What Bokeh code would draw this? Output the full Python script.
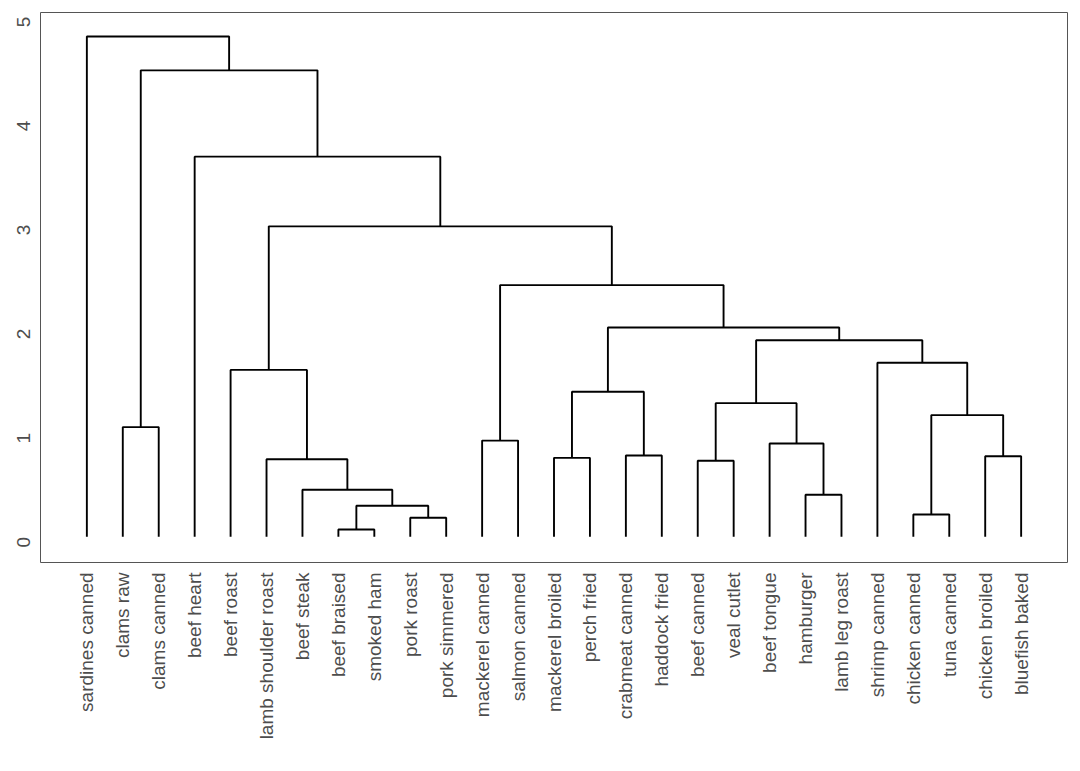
import math
from bokeh.plotting import figure
from bokeh.models import Range1d, FixedTicker, ColumnDataSource
from bokeh.embed import file_html
from bokeh.resources import INLINE

# Leaves in displayed order (left to right)
labels = [
    "sardines canned", "clams raw", "clams canned", "beef heart", "beef roast",
    "lamb shoulder roast", "beef steak", "beef braised", "smoked ham", "pork roast",
    "pork simmered", "mackerel canned", "salmon canned", "mackerel broiled",
    "perch fried", "crabmeat canned", "haddock fried", "beef canned", "veal cutlet",
    "beef tongue", "hamburger", "lamb leg roast", "shrimp canned", "chicken canned",
    "tuna canned", "chicken broiled", "bluefish baked",
]

# hclust-style merge table: negative = leaf (1-based position), positive = earlier merge
merge_left = [-8, -10, -24, 1, -21, -7, -18, -6, -14, -26, -16, -20, -12, -2,
              3, 7, 9, -5, -23, 16, 17, 13, 18, -4, 14, -1]
merge_right = [-9, -11, -25, 2, -22, 4, -19, 6, -15, -27, -17, 5, -13, -3,
               10, 12, 11, 8, 15, 19, 20, 21, 22, 23, 24, 25]
merge_height = [0.07, 0.183, 0.215, 0.298, 0.404, 0.452, 0.731, 0.745, 0.759, 0.775,
                0.782, 0.897, 0.925, 1.055, 1.17, 1.285, 1.394, 1.605, 1.673, 1.89,
                2.012, 2.42, 2.985, 3.655, 4.485, 4.81]
leaf_height = 0.0

y_ticks = [0, 1, 2, 3, 4, 5]

# compute node positions
node_x = []
node_h = []


def pos(ref):
    if ref < 0:
        return float(-ref), leaf_height
    return node_x[ref - 1], node_h[ref - 1]


xs, ys = [], []
for l, r, h in zip(merge_left, merge_right, merge_height):
    xl, hl = pos(l)
    xr, hr = pos(r)
    xs.append([xl, xl, xr, xr])
    ys.append([hl, h, h, hr])
    node_x.append((xl + xr) / 2.0)
    node_h.append(h)

src = ColumnDataSource(dict(xs=xs, ys=ys))

FONT = "Liberation Sans"

p = figure(width=1072, height=763, output_backend="svg", toolbar_location=None,
           x_range=Range1d(-0.29, 28.29), y_range=Range1d(-0.247, 5.041),
           min_border_left=40, min_border_right=5, min_border_top=12,
           min_border_bottom=201)
p.background_fill_color = "white"
p.border_fill_color = "white"
p.outline_line_color = "#555555"
p.outline_line_width = 1
p.xgrid.visible = False
p.ygrid.visible = False

p.multi_line(xs="xs", ys="ys", source=src, line_color="black", line_width=1.9)

for ax in (p.xaxis[0], p.yaxis[0]):
    ax.axis_line_color = None
    ax.major_tick_line_color = None
    ax.minor_tick_line_color = None
    ax.major_tick_in = 0
    ax.major_tick_out = 0
    ax.major_label_text_font = FONT
    ax.major_label_text_font_size = "19px"
    ax.major_label_text_color = "#4d4d4d"

p.xaxis.ticker = FixedTicker(ticks=list(range(1, len(labels) + 1)))
p.xaxis.major_label_overrides = {i + 1: lab for i, lab in enumerate(labels)}
p.xaxis.major_label_orientation = math.pi / 2
p.xaxis.major_label_standoff = 10

p.yaxis.ticker = FixedTicker(ticks=y_ticks)
p.yaxis.major_label_orientation = math.pi / 2
p.yaxis.major_label_standoff = 17

open("out.html", "w").write(file_html(p, INLINE))
